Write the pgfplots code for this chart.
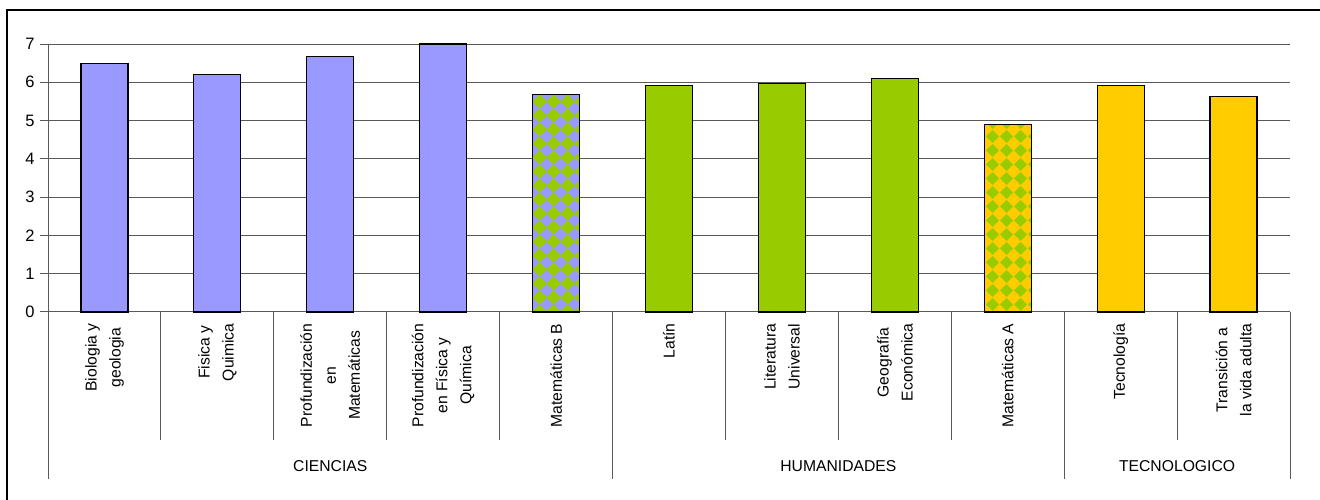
\documentclass[border=0pt]{standalone}
\usepackage{pgfplots}
\pgfplotsset{compat=1.18}
\usepackage{fontspec}
\setmainfont{Liberation Sans}
\usetikzlibrary{patterns}
\definecolor{cblue}{HTML}{9999FF}
\definecolor{cgreen}{HTML}{99CC00}
\definecolor{cyellow}{HTML}{FFCC00}
\pgfdeclarepatternformonly{diam}{\pgfpointorigin}{\pgfqpoint{13.5pt}{13.5pt}}{\pgfqpoint{13.5pt}{13.5pt}}{%
 \pgfpathmoveto{\pgfqpoint{6.75pt}{0pt}}%
 \pgfpathlineto{\pgfqpoint{13.5pt}{6.75pt}}%
 \pgfpathlineto{\pgfqpoint{6.75pt}{13.5pt}}%
 \pgfpathlineto{\pgfqpoint{0pt}{6.75pt}}%
 \pgfpathclose\pgfusepath{fill}}
\begin{document}
\begin{tikzpicture}
\useasboundingbox (0,0) rectangle (1320pt,500pt);
\draw[line width=2pt] (7pt,0pt) -- (7pt,490pt) -- (1320pt,490pt);
\begin{axis}[
 at={(48pt,188pt)}, anchor=south west,
 scale only axis, width=1242pt, height=268pt,
 xmin=-0.5, xmax=10.5, ymin=0, ymax=7,
 ytick={0,1,2,3,4,5,6,7},
 xtick={0,1,2,3,4,5,6,7,8,9,10},
 xticklabels={{Biologia y\\geologia},{Fisica y\\Quimica},{Profundización\\en\\Matemáticas},{Profundización\\en Física y\\Química},{Matemáticas B},{Latín},{Literatura\\Universal},{Geografía\\Económica},{Matemáticas A},{Tecnología},{Transición a\\la vida adulta}},
 major x tick style={draw=none},
 ybar, bar width=47pt, bar shift=0pt,
 axis lines*=left,
 axis line style={black!65, line width=1pt},
 ymajorgrids, grid style={black!65, line width=1pt},
 tick align=outside, major tick length=8pt,
 ytick style={black!65, line width=1pt},
 /pgf/number format/assume math mode=true,
 yticklabel style={font=\fontsize{16.5}{18}\selectfont, xshift=-2pt},
 xticklabel style={font=\fontsize{15.7}{24}\selectfont, rotate=90, anchor=east, align=center},
 clip=false,
]
\addplot[fill=cblue, draw=black, line width=1.2pt] coordinates {(0,6.50) (1,6.21) (2,6.67) (3,7.0)};
\addplot[preaction={fill=cgreen}, pattern=diam, pattern color=cblue, draw=black, line width=1.2pt] coordinates {(4,5.69)};
\addplot[fill=cgreen, draw=black, line width=1.2pt] coordinates {(5,5.92) (6,5.96) (7,6.09)};
\addplot[preaction={fill=cyellow}, pattern=diam, pattern color=cgreen, draw=black, line width=1.2pt] coordinates {(8,4.90)};
\addplot[fill=cyellow, draw=black, line width=1.2pt] coordinates {(9,5.91) (10,5.62)};
\draw[black!65, line width=1pt] (axis cs:-0.5,0) -- ([yshift=-167pt]axis cs:-0.5,0);
\draw[black!65, line width=1pt] (axis cs:0.5,0) -- ([yshift=-128pt]axis cs:0.5,0);
\draw[black!65, line width=1pt] (axis cs:1.5,0) -- ([yshift=-128pt]axis cs:1.5,0);
\draw[black!65, line width=1pt] (axis cs:2.5,0) -- ([yshift=-128pt]axis cs:2.5,0);
\draw[black!65, line width=1pt] (axis cs:3.5,0) -- ([yshift=-128pt]axis cs:3.5,0);
\draw[black!65, line width=1pt] (axis cs:4.5,0) -- ([yshift=-167pt]axis cs:4.5,0);
\draw[black!65, line width=1pt] (axis cs:5.5,0) -- ([yshift=-128pt]axis cs:5.5,0);
\draw[black!65, line width=1pt] (axis cs:6.5,0) -- ([yshift=-128pt]axis cs:6.5,0);
\draw[black!65, line width=1pt] (axis cs:7.5,0) -- ([yshift=-128pt]axis cs:7.5,0);
\draw[black!65, line width=1pt] (axis cs:8.5,0) -- ([yshift=-167pt]axis cs:8.5,0);
\draw[black!65, line width=1pt] (axis cs:9.5,0) -- ([yshift=-128pt]axis cs:9.5,0);
\draw[black!65, line width=1pt] (axis cs:10.5,0) -- ([yshift=-167pt]axis cs:10.5,0);
\node[anchor=base, font=\fontsize{15.7}{18}\selectfont, yshift=-160pt] at (axis cs:2,0) {CIENCIAS};
\node[anchor=base, font=\fontsize{15.7}{18}\selectfont, yshift=-160pt] at (axis cs:6.5,0) {HUMANIDADES};
\node[anchor=base, font=\fontsize{15.7}{18}\selectfont, yshift=-160pt] at (axis cs:9.5,0) {TECNOLOGICO};
\end{axis}
\end{tikzpicture}
\end{document}
